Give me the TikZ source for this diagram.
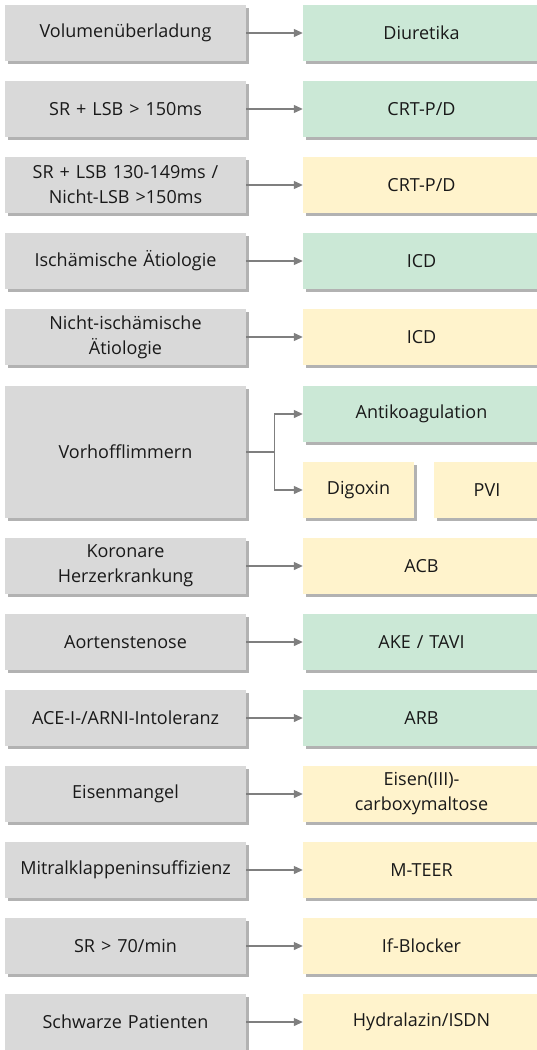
\documentclass[tikz,border=0pt]{standalone}
\usepackage{fontspec}
\setmainfont{Open Sans}
\usetikzlibrary{arrows.meta,shadows}

\definecolor{befundgrau}{HTML}{D9D9D9}
\definecolor{thgruen}{HTML}{CBE8D6}
\definecolor{thgelb}{HTML}{FFF3CC}
\definecolor{pfeilgrau}{HTML}{7F7F7F}

\tikzset{
    kasten/.style={rectangle, minimum height=56pt, inner sep=0pt, align=center,
        font=\fontsize{18}{25}\selectfont, text=black!90,
        drop shadow={shadow xshift=2.5pt, shadow yshift=-2.5pt, fill=black, opacity=0.3}},
    befund/.style={kasten, fill=befundgrau, minimum width=241pt, text width=237pt},
    therapie/.style={kasten, minimum width=237pt, text width=230pt},
    gruen/.style={fill=thgruen},
    gelb/.style={fill=thgelb},
    pfeil/.style={draw=pfeilgrau, line width=1.2pt, -{Triangle[length=9pt,width=8pt]}}
}

\begin{document}
\begin{tikzpicture}[x=1pt, y=-1pt]
\useasboundingbox (0,0) rectangle (537,1050);
% Variables: 1 := y position, 2 := ID, 3 := finding, 4 := therapy, 5 := colour.
\def\zeile(#1)#2#3#4#5{
    \node[befund] (#2 L) at (125.5,#1) {#3};
    \node[therapie,#5] (#2 R) at (421.5,#1) {#4};
    \draw[pfeil] (#2 L) -- (#2 R);
}
\zeile(33){volu}{Volumenüberladung}{Diuretika}{gruen}
\zeile(109){lsb}{SR + LSB > 150ms}{CRT-P/D}{gruen}
\zeile(185){nlsb}{SR + LSB 130-149ms /\\Nicht-LSB >150ms}{CRT-P/D}{gelb}
\zeile(261){isch}{Ischämische Ätiologie}{ICD}{gruen}
\zeile(337){nisch}{Nicht-ischämische\\Ätiologie}{ICD}{gelb}
\zeile(566){khk}{Koronare\\Herzerkrankung}{ACB}{gelb}
\zeile(642){aort}{Aortenstenose}{AKE / TAVI}{gruen}
\zeile(718){ace}{ACE-I-/ARNI-Intoleranz}{ARB}{gruen}
\zeile(794){eisen}{Eisenmangel}{Eisen(III)-\\carboxymaltose}{gelb}
\zeile(870){mitral}{Mitralklappeninsuffizienz}{M-TEER}{gelb}
\zeile(946){sr}{SR > 70/min}{If-Blocker}{gelb}
\zeile(1022){schw}{Schwarze Patienten}{Hydralazin/ISDN}{gelb}

% Vorhofflimmern
\node[befund, minimum height=132pt] (vhf L) at (125.5,452) {Vorhofflimmern};
\node[therapie, gruen] (anti R) at (421.5,414) {Antikoagulation};
\node[kasten, gelb, minimum width=111pt, text width=105pt] (digo R) at (358.5,490) {Digoxin};
\node[kasten, gelb, minimum width=106pt, text width=100pt] (pvi R) at (487,490) {PVI};
\draw[draw=pfeilgrau, line width=1.2pt] (vhf L.east) -- ++(28,0) coordinate (knick);
\draw[pfeil] (knick) |- (anti R.west);
\draw[pfeil] (knick) |- (digo R.west);
\end{tikzpicture}
\end{document}
